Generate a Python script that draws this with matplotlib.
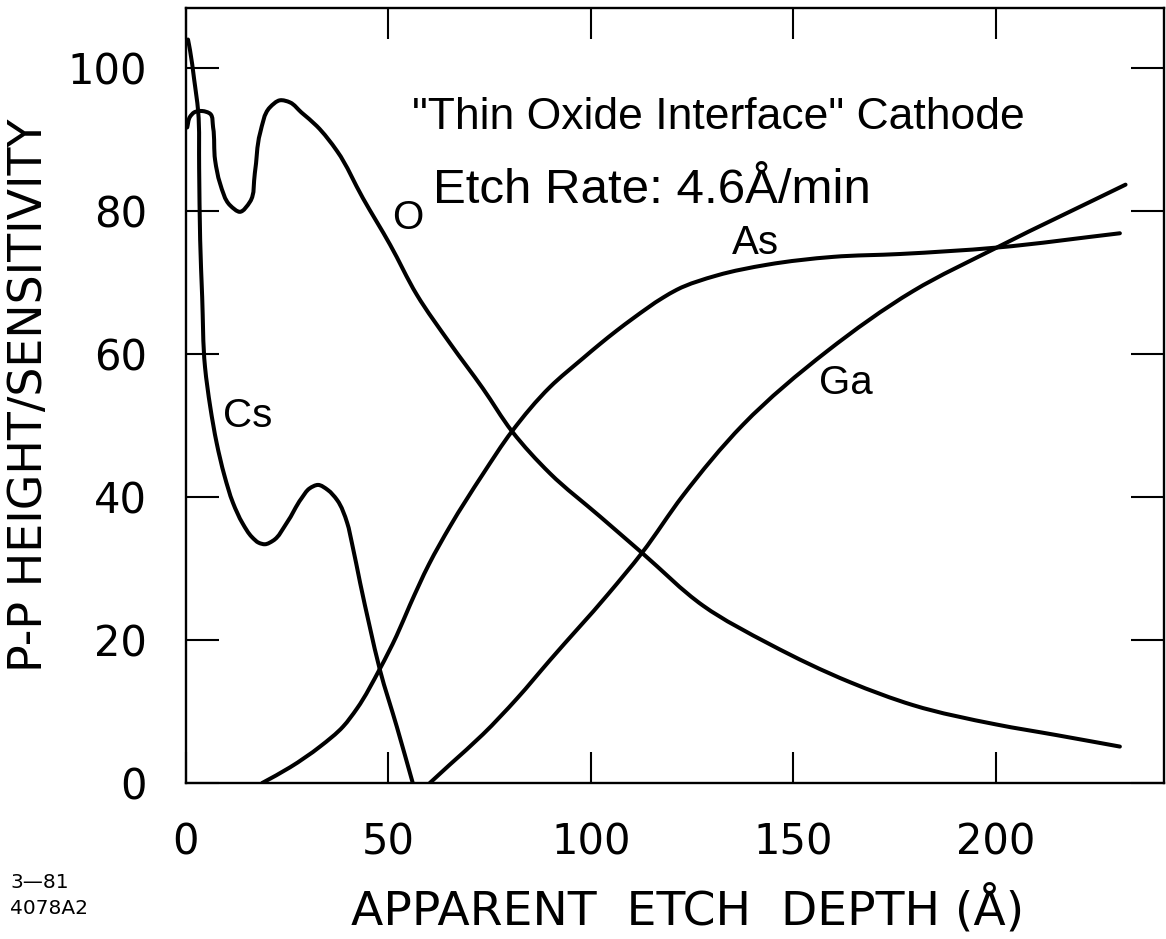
import numpy as np
import matplotlib
matplotlib.use('Agg')
import matplotlib.pyplot as plt
from matplotlib.path import Path
from matplotlib.patches import PathPatch

# ── Data (depth in Å, P-P height/sensitivity) ───────────────────────
cs_x = [0.5, 1.0, 2.0, 3.0, 3.25, 3.5, 4.0, 4.7, 6.0, 7.6, 9.5, 11.6, 14.0, 16.3,
        18.0, 19.5, 21.5, 24.9, 28.5, 30.5, 32.6, 35.0, 37.3, 39.8, 41.0, 43.0,
        45.4, 47.9, 52.1, 56.0]
cs_y = [104.0, 102.5, 98.5, 94.0, 86.0, 76.0, 68.0, 58.2, 52.6, 47.5, 43.0, 39.2,
        36.3, 34.4, 33.6, 33.4, 33.9, 36.4, 39.8, 41.2, 41.7, 41.0, 39.6, 36.4,
        33.5, 28.0, 21.8, 15.8, 7.8, 0.0]

o_x = [0.3, 1.0, 2.0, 4.0, 6.0, 6.7, 7.2, 8.4, 10.9, 13.3, 15.8, 17.0, 18.3, 20.7,
       23.2, 25.7, 28.5, 32.3, 37.3, 43.7, 50.4, 57.0, 65.2, 73.3, 80.5, 89.9,
       102.2, 112.6, 127.7, 144.2, 164.0, 179.5, 200.0, 215.0, 230.6]
o_y = [91.7, 93.2, 93.8, 94.0, 93.6, 91.7, 87.1, 83.9, 80.8, 79.9, 81.3, 85.3, 90.9,
       94.5, 95.5, 95.2, 93.8, 91.9, 88.4, 81.8, 75.3, 68.3, 61.5, 55.2, 49.2, 43.3,
       37.3, 32.2, 24.8, 19.4, 14.1, 10.9, 8.2, 6.7, 5.1]

as_x = [18.8, 25.7, 33.1, 38.8, 42.2, 47.9, 52.0, 55.3, 60.0, 65.2, 73.3, 80.5,
        89.9, 98.0, 102.2, 106.4, 110.4, 117.8, 121.2, 131.1, 143.5, 159.8, 176.3,
        200.2, 230.6]
as_y = [0.0, 2.2, 5.1, 7.9, 10.4, 16.0, 20.6, 24.9, 30.6, 35.9, 43.2, 49.2, 55.4,
        59.4, 61.4, 63.3, 65.0, 67.9, 69.0, 71.0, 72.5, 73.6, 74.0, 74.9, 76.9]

ga_x = [60.2, 65.2, 73.3, 81.7, 89.9, 104.2, 112.6, 122.7, 137.5, 158.3, 179.5,
        200.2, 232.0]
ga_y = [0.0, 2.6, 6.8, 11.8, 17.2, 26.4, 32.2, 40.2, 50.1, 60.4, 68.8, 74.9, 83.7]

x_ticks = [0, 50, 100, 150, 200]
y_ticks = [0, 20, 40, 60, 80, 100]

plt.rcParams['font.family'] = 'DejaVu Sans'
ANNOT_FONT = 'Liberation Sans'

PX_X, PX_Y = 4.05, 7.15   # rough pixels per data unit, used only for curve smoothing


def smooth_path(xs, ys):
    """Cubic Bezier curve through the read points (chord-length tangents)."""
    p = np.column_stack([np.asarray(xs) * PX_X, np.asarray(ys) * PX_Y])
    seg = np.diff(p, axis=0)
    d = np.hypot(seg[:, 0], seg[:, 1])
    u = seg / d[:, None]
    m = np.empty_like(p)
    m[0], m[-1] = u[0], u[-1]
    m[1:-1] = (d[1:, None] * u[:-1] + d[:-1, None] * u[1:]) / (d[:-1] + d[1:])[:, None]
    verts = [p[0]]
    codes = [Path.MOVETO]
    for i in range(len(p) - 1):
        verts += [p[i] + m[i] * d[i] / 3, p[i + 1] - m[i + 1] * d[i] / 3, p[i + 1]]
        codes += [Path.CURVE4] * 3
    verts = np.array(verts) / [PX_X, PX_Y]
    return Path(verts, codes)


# ── Figure ──────────────────────────────────────────────────────────
fig = plt.figure(figsize=(11.66, 9.39), dpi=100, facecolor='white')
ax = fig.add_axes([0.1595, 0.1661, 0.8388, 0.8253])
ax.set_xlim(0, 241.5)
ax.set_ylim(0, 108.4)

LW = 2.9
for xs, ys in [(cs_x, cs_y), (o_x, o_y), (as_x, as_y), (ga_x, ga_y)]:
    ax.add_patch(PathPatch(smooth_path(xs, ys), facecolor='none', edgecolor='black',
                           linewidth=LW, joinstyle='round', capstyle='round',
                           zorder=3))

for s in ax.spines.values():
    s.set_linewidth(1.7)

ax.set_xticks(x_ticks)
ax.set_yticks(y_ticks)
ax.tick_params(direction='in', length=22, width=1.5, top=True, right=True,
               labelsize=30, pad=28)
ax.tick_params(axis='y', length=24)

ax.set_xlabel('APPARENT  ETCH  DEPTH (Å)', fontsize=34, va='center')
ax.xaxis.set_label_coords(0.513, -0.164)
ax.set_ylabel('P-P HEIGHT/SENSITIVITY', fontsize=33, va='center')
ax.yaxis.set_label_coords(-0.1595, 0.5)

# ── Curve labels ────────────────────────────────────────────────────
lab = dict(fontsize=29, ha='center', va='center', family=ANNOT_FONT)
ax.text(54.8, 79.0, 'O', **lab)
ax.text(140.7, 75.5, 'As', **lab)
ax.text(15.3, 51.3, 'Cs', **lab)
ax.text(163.0, 55.9, 'Ga', **lab)

# ── Annotation ──────────────────────────────────────────────────────
ax.text(55.8, 93.1, '"Thin Oxide Interface" Cathode', fontsize=32, family=ANNOT_FONT,
        ha='left', va='center')
ax.text(61.0, 82.9, 'Etch Rate: 4.6Å/min', fontsize=35.5, family=ANNOT_FONT,
        ha='left', va='center')

# ── Drawing number ──────────────────────────────────────────────────
fig.text(10 / 1166, 1 - 882 / 939, '3—81', fontsize=14.5, ha='left', va='center')
fig.text(10 / 1166, 1 - 908 / 939, '4078A2', fontsize=14.5, ha='left', va='center')

fig.savefig('out.png', dpi=100, facecolor='white')
